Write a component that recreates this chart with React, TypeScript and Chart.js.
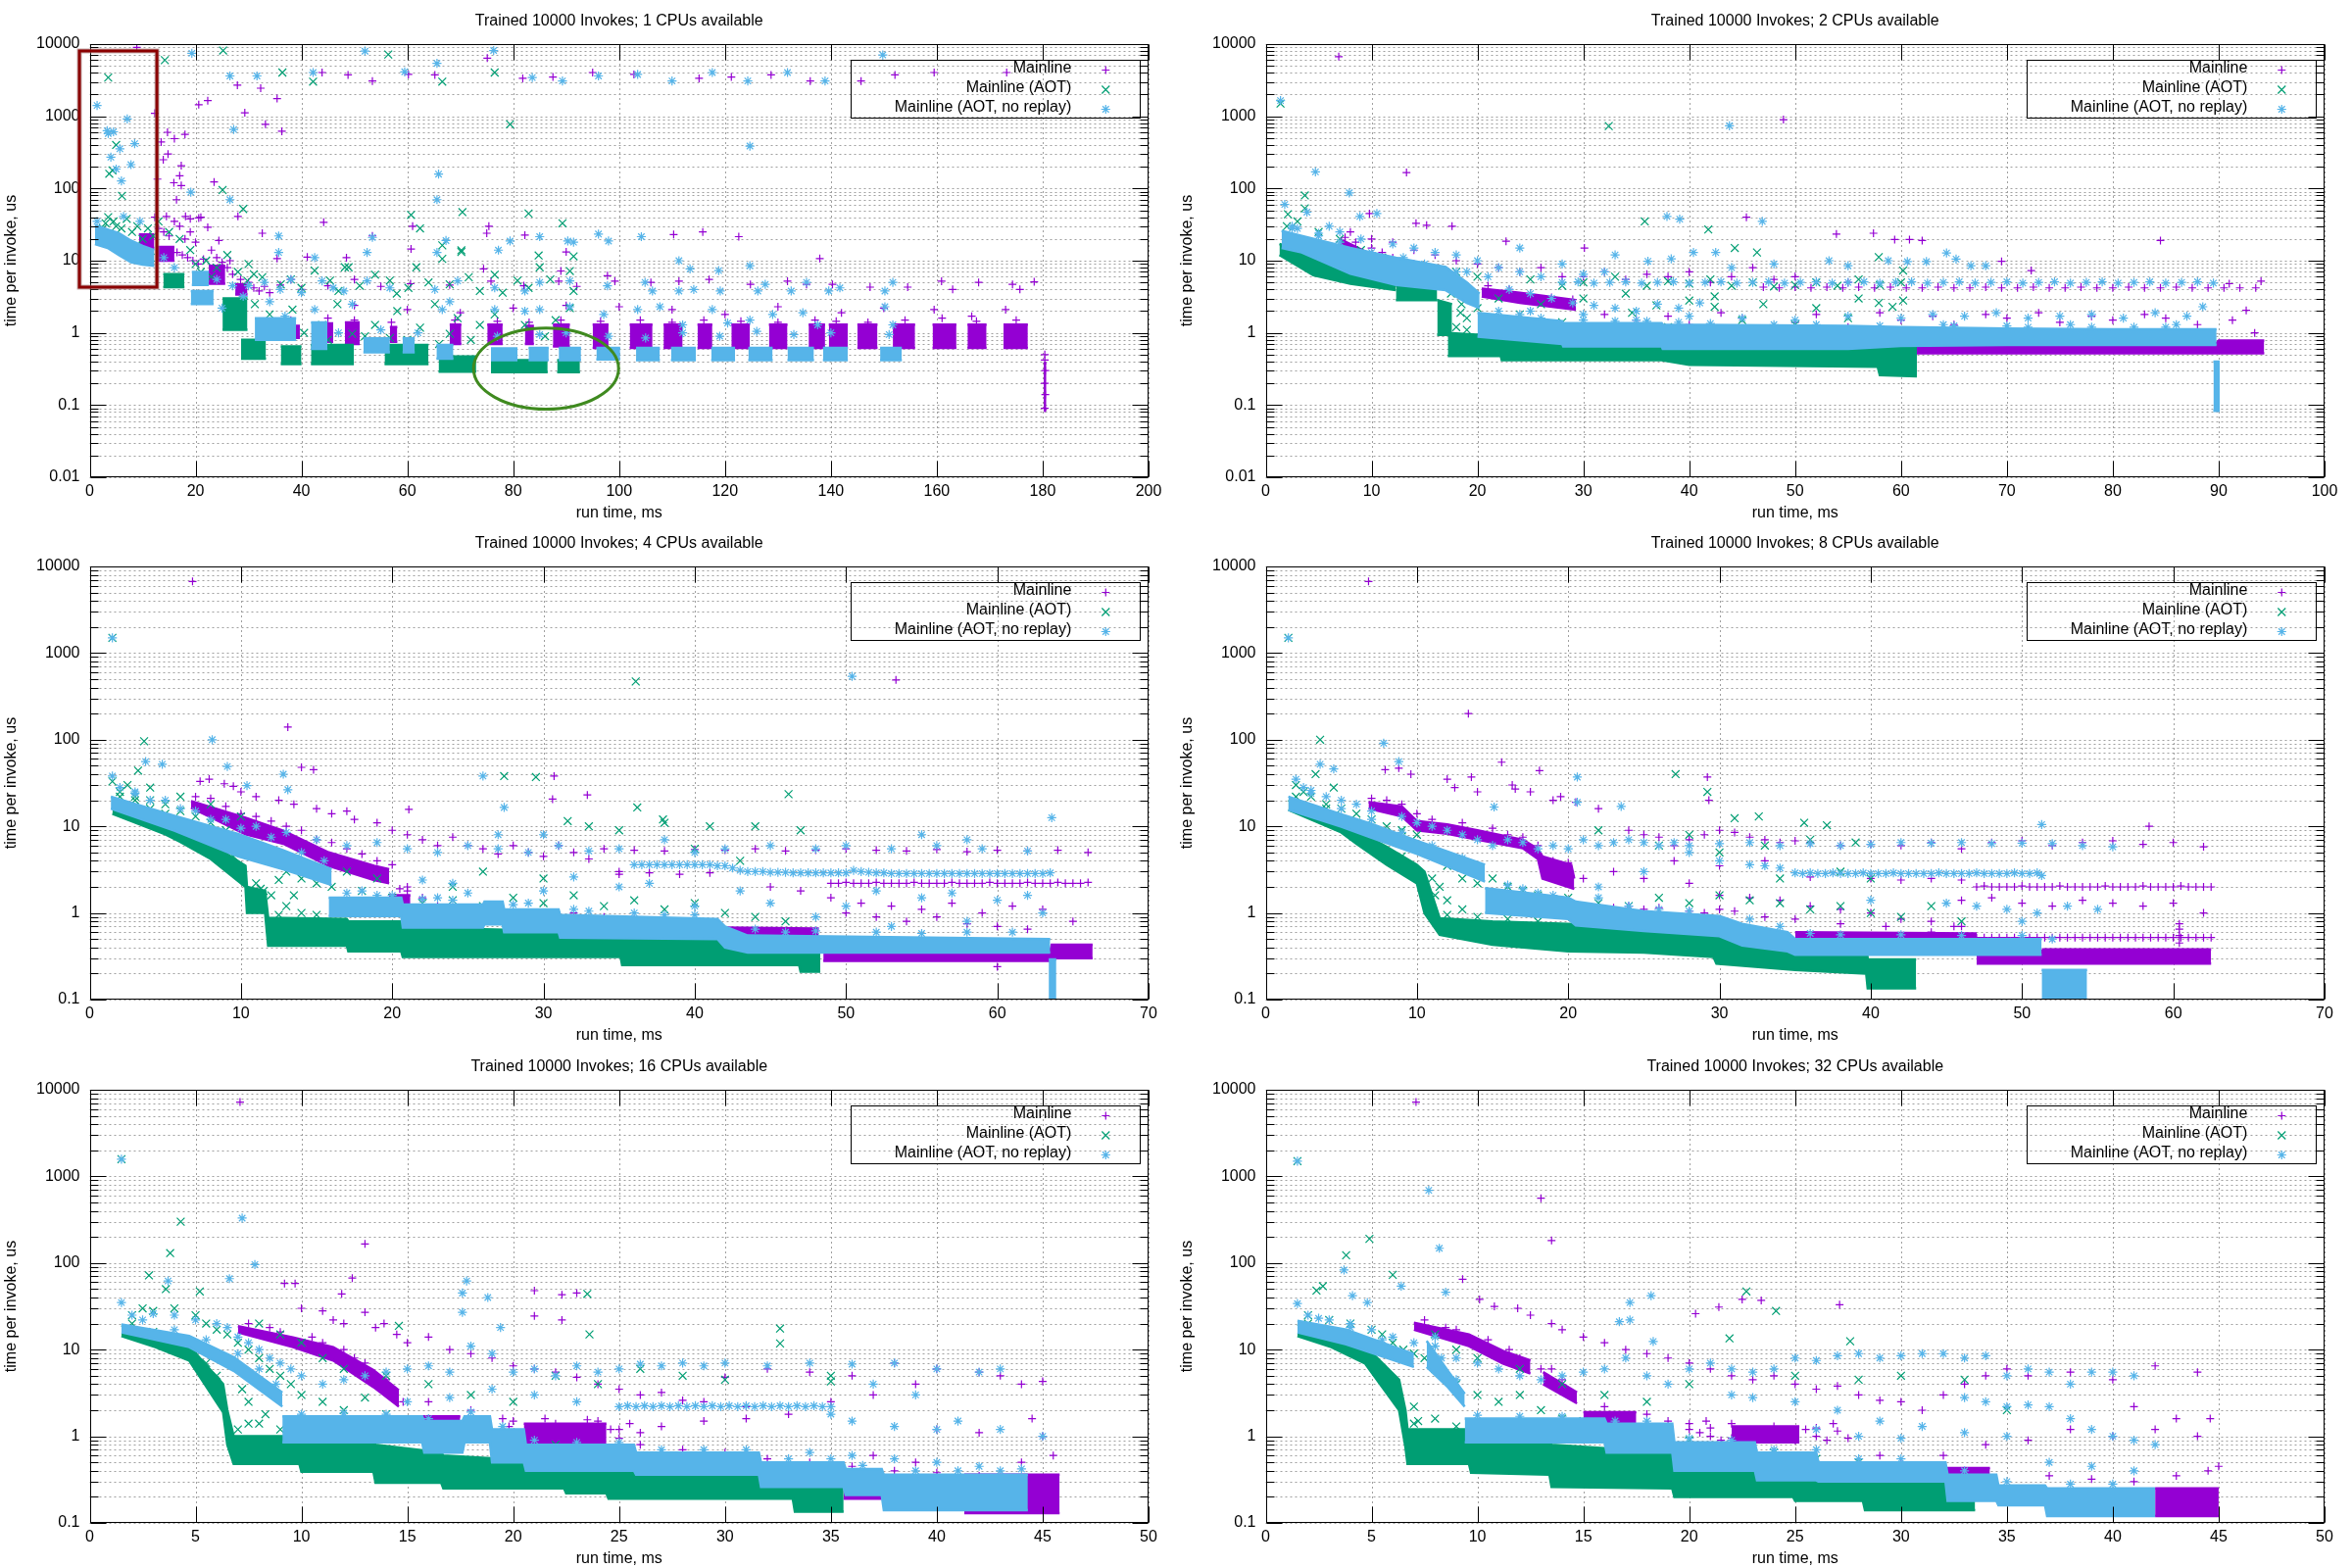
import React, { useEffect, useRef } from 'react';
import { Chart, registerables } from 'chart.js';

Chart.register(...registerables);

type Pt = [number, number];
type Band = [number, number, number][];
type Blob = [number, number, number, number];

const COL_MAIN = '#9400d3';
const COL_AOT = '#009e73';
const COL_NOREP = '#56b4e9';
const FONT = "'Liberation Sans', Arial, Helvetica, sans-serif";

const seriesNames = ['Mainline', 'Mainline (AOT)', 'Mainline (AOT, no replay)'];
const cpuCounts = [1, 2, 4, 8, 16, 32];
const xTicks200 = [0, 20, 40, 60, 80, 100, 120, 140, 160, 180, 200];
const xTicks100 = [0, 10, 20, 30, 40, 50, 60, 70, 80, 90, 100];
const xTicks70 = [0, 10, 20, 30, 40, 50, 60, 70];
const xTicks50 = [0, 5, 10, 15, 20, 25, 30, 35, 40, 45, 50];
const yLabelsWide = ['0.01', '0.1', '1', '10', '100', '1000', '10000'];
const yLabelsNarrow = ['0.1', '1', '10', '100', '1000', '10000'];
const yMinorSteps = [2, 3, 4, 5, 6, 7, 8, 9];

// annotations drawn on the 1-CPU panel (data coordinates)
const redBoxX = [-1.94, 12.7];
const redBoxY = [4.3, 8040];
const ellipseX = [72.5, 99.9];
const ellipseY = [0.0877, 1.17];

// ---------------- Panel 1: 1 CPU ----------------
const p1Main: Pt[] = [
  [8.9,9000],[12.3,1100],[20.6,1450],[22.3,1650],[27.9,2700],[32.3,2450],[29.3,1120],[35.4,1760],[33.2,775],[36.3,620],
  [43.9,4040],[48.8,3740],[53.4,3080],[60.2,3800],[65.2,3740],[75.1,6400],[81.8,3360],[87.5,3500],[95,4040],[102.8,3800],
  [115.1,3360],[121.2,3500],[128.7,3740],[136.1,3080],[145.7,3080],[152.1,3740],[159.5,4040],[173.2,4040],
  [13.5,440],[14.7,600],[16,490],[18,560],[13.9,250],[14.8,300],[17.3,207],[15.9,120],[17.3,110],[17,150],[12.8,135],[23.5,123],
  [16.4,70],[14.5,41],[18.1,41],[20.6,39],[28,41],[44.2,34],[22.3,29],[24.4,19],[32.6,24],[35.4,10.7],[41.1,11.2],[48.5,11],
  [53.4,22],[60.7,14.5],[61,30],[75.4,30],[75,24],[82.2,22.6],[90,13.2],[97.8,6.2],[110.3,23],[115.8,25],[122.6,21.5],[137.9,10.7],
  [74.4,7.7],[89,7.2],
  [12.3,40],[13,28],[14,25],[15,22],[16,35],[17,30],[18,20],[19,25],[20,18],[19,38],[21,40],[16.5,13],[17.5,12],[18.5,11],[19.5,10],
  [20.5,9],[21.5,10.5],[23,14],[24,11],[25,9.5],[26,8],[26.5,10],[27,6.5],[28.5,5.5],[30,5],[31,4.2],[32,3.8],[33,4.4],[34,3.6],[36,4.6],[38,5.5],[40,4],
  [45,4.5],[50,5.5],[55,4.4],[60.6,4.8],[68,4.6],[75.8,5.2],[82,4.5],[88.6,5.2],[92,4.4],[99.2,5.2],[106,5],[111.3,5.2],[117,5.5],
  [124.8,4.7],[131.8,5.2],[135.4,4.7],[140.3,4.7],[147.4,4.3],[154.5,4.3],[160.9,5.2],[163,4],[167.9,5],[174.3,4.7],[175.7,4],[178.4,5.1],
  [50,2.4],[60,2.1],[70,1.9],[80,2.2],[90,2.4],[100,2.3],[110,2.1],[120,1.8],[130,2.3],[142,1.9],[150,2.2],[159.5,2.1],[166.6,1.7],[173,2.1],
  [38,1.5],[45,1.6],[50,1.5],[57,1.4],[69,1.5],[77,1.45],[83,1.4],[89,1.5],[96.5,1.45],[104,1.5],[110,1.4],[116,1.5],[123,1.45],
  [130,1.4],[137,1.5],[141,1.45],[147,1.4],[154,1.5],[161,1.6],[167.5,1.45],[175,1.5],
  [180.4,0.5],[180.4,0.42],[180.5,0.3],[180.4,0.2],[180.5,0.14],[180.4,0.09]
];
const p1MainBlobs: Blob[] = [
  [9.3,12.2,15,23],[12.5,16,10,15.5],[22.5,25.6,4.8,8.5],[27.5,29.8,3.4,4.7],
  [36.9,39.7,0.85,1.25],[43.9,46,0.75,1.35],[48.2,51,0.7,1.4],[56.7,58.1,0.75,1.2],[68,70.2,0.7,1.3],[75.1,78,0.7,1.3],
  [82.2,83.9,0.7,1.25],[87.5,90.7,0.65,1.3],[95,98,0.62,1.3],[102,106.3,0.62,1.3],[108.4,112,0.62,1.3],[114.8,117.6,0.62,1.3],
  [121.2,124.7,0.62,1.3],[128.3,131.8,0.62,1.3],[135.8,138.9,0.62,1.3],[139.6,143.2,0.62,1.3],[145,148.8,0.62,1.3],
  [151.7,155.9,0.62,1.3],[159.2,163.7,0.62,1.3],[165.8,169.4,0.62,1.3],[172.6,177.2,0.62,1.3],[180.2,180.7,0.085,0.38]
];
const p1Aot: Pt[] = [
  [3.5,3440],[14.2,6000],[25.2,8150],[36.4,4040],[42.2,3020],[56.4,7170],[66.6,3020],[76.5,4040],[79.4,775],[25.1,95],[29,52],
  [60.7,43],[70.4,47],[82.9,45],[89.3,33],[6.1,79],[5,400],[4.3,178],[48.9,8.1],[62.4,28],[66.6,16.3],[70.2,13.2],[84.8,11.8],[91.4,11.5],[3.7,160],
  [2.5,28],[3,33],[3.5,40],[4,22],[4.5,35],[5,30],[6,28],[6,18],[7,38],[8,25],[8,14],[9,30],[10,20],[10,12],[11,28],[11.5,11],[12,22],
  [13,35],[15,25],[17,20],[19,14],[20,9],[21,7],[22,10],[23,6],[24,8],[26,12],[28,7],[30,9],[31,6.5],
  [29.8,5.26],[32.6,5.9],[36.1,4.7],[42.5,7.3],[45.4,5.3],[48.2,8.1],[51,4.5],[53.9,6.4],[56.7,5.3],[60.2,4.2],[61.7,8.1],[66.6,10.6],
  [68,4.7],[70.2,13.9],[71.6,5.9],[73.7,3.8],[76.5,6.4],[80.8,5.3],[82.9,4.2],[85,8.1],[91.4,3.8],[90.7,7.2],[38,5.5],[40,4.2],[47,3.8],
  [58,3.5],[64,5],[78,3.6],[87,5.5],
  [43.9,1.29],[49.6,0.97],[53.9,1.29],[56.7,0.85],[62.4,1.18],[68,0.97],[69.5,1.6],[73.7,1.29],[76.5,1.8],[82.2,1.29],[90.7,2.2],
  [31.2,2.5],[34,1.8],[38.3,2.1],[46.8,2.5],[58.1,2.0],[65.2,2.5],[40.5,1.0],[45,0.8],[52,0.9],[60,0.8],[66,0.7],[72,0.8],[86,0.9],[88,1.5],[35,1.2],[33,0.9]
];
const p1AotBlobs: Blob[] = [
  [13.9,17.9,4.3,6.5],[25.1,29.8,1.1,3.0],[28.6,33.3,0.44,0.8],[36.1,40,0.37,0.65],[41.8,49.9,0.37,0.68],
  [55.7,64,0.37,0.68],[65.9,73,0.29,0.47],[75.8,86.5,0.285,0.42],[88.3,92.6,0.285,0.42]
];
const p1NoRep: Pt[] = [
  [1.4,1410],[3.5,578],[4.5,610],[7.1,920],[8.5,417],[4,271],[5,186],[6,127],[7.8,214],[5.7,355],[3.3,630],[1.4,35],[6.4,41],[9.5,35],
  [19.3,7460],[26.5,3620],[31.6,3620],[42.2,4040],[52,7980],[59.5,4130],[65.6,5400],[76.3,8150],[83.6,3440],[89.3,3080],[96.1,3620],
  [103.5,3800],[110,3080],[117.6,4040],[124.3,3080],[131.8,4040],[138.9,3080],[149.8,7080],
  [124.7,387],[65.9,158],[65.6,70],[27.2,658],[19.1,89],[26.5,70],
  [35.7,22],[35.7,13],[42.5,11],[52.4,13],[53.4,21],[65.6,13],[67.3,19],[77.2,14],[79.4,18.7],[85,21.5],[90.3,18.7],[91.4,18],
  [96.1,23.4],[98,18.7],[104.2,21.5],[111.3,10],[113.4,7.7],[118.8,7.3],[124.7,8.5],
  [30,4.5],[33,5],[36,4],[38,5.5],[40,3.6],[46,4.2],[48,3.8],[43.9,5.26],[52.4,5.26],[56.7,4.2],[65.2,4.0],[69.5,5.26],[76.5,4.2],
  [82.2,3.8],[85,5.0],[90.7,5.26],[97.8,4.5],[104.9,5.0],[106.3,3.8],[111.3,3.8],[114.1,4.0],[119.1,3.8],[126.2,3.8],[127.6,4.7],
  [132.5,3.8],[135.4,5.0],[139.6,3.8],[141.7,4.2],[150.2,3.8],[151.7,5.0],
  [34,2.7],[36.9,1.7],[42.5,2.1],[49.6,2.5],[66.6,2.1],[68,2.7],[76.5,2.1],[82.2,2.0],[85,2.1],[90.7,2.3],[97.1,1.8],[103.5,2.1],
  [107.7,2.3],[112,1.29],[117.6,2.1],[120.5,1.37],[124.7,1.5],[129,1.8],[134.7,1.9],[137.5,1.29],[150.2,2.3],[151.7,1.29],
  [47,1.0],[55,1.1],[62,1.0],[77,0.9],[85,0.95],[90,1.0],[98,0.9],[105,0.85],[112,1.0],[119,0.9],[126,1.05],[133,0.95],[140,1.0],
  [151,0.95],[16,8],[14,11],[24,5.5],[27,4.5],[29,3.2],[25,2.2]
];
const p1NoRepBand: Band = [[1,17,31],[3.4,15,27],[5.5,12,24],[7.8,9.5,19],[10,8.8,16],[12.2,8.5,14]];
const p1NoRepBlobs: Blob[] = [
  [19.1,23.4,2.5,3.8],[19.3,22.5,4.6,7],[31.2,39,0.8,1.6],[41.8,44.9,0.6,1.4],[51.7,56.7,0.54,0.84],[59.1,61.4,0.54,0.84],
  [65.5,68.7,0.44,0.68],[75.8,80.8,0.42,0.61],[82.9,86.7,0.42,0.62],[88.6,92.8,0.42,0.62],[95.7,100.2,0.43,0.62],
  [103.2,107.7,0.42,0.62],[109.8,114.5,0.42,0.62],[117.4,121.9,0.42,0.62],[124.4,129,0.42,0.62],[131.8,136.8,0.42,0.62],
  [138.5,143.2,0.42,0.62],[149.3,153.4,0.42,0.62]
];

// ---------------- Panel 2: 2 CPUs ----------------
const p2Main: Pt[] = [
  [6.9,6700],[13.3,166],[48.9,900],[84.5,19],[9.8,45],[14.2,33],[15.2,31],[17.6,30],[22.7,18.6],[30.1,15],[53.9,23.4],[57.4,24],
  [59.4,19.6],[60.8,19.6],[62,19],[45.4,40],[69.5,9.8],[72.3,7.3],[92.6,2.05],[91.3,1.5],[93.4,1.0],
  [8,25],[10,20],[12,18],[14,14],[16,12],[18,10],[20,9],[22,8],[24,7],[26,8],[28,6],[30,6],[32,7],[34,5.5],[36,6.5],[38,6],[40,7],
  [42,5],[44,6],[46,8],[48,5.5],[50,6],[55,5],[18,4.5],[19,3.8],[17,5],
  [7.5,21],[8.5,18],[10,15],[11,13],[12,11],[13,10],[14,9],[21,4.5],[23,4],[25,3.5],[27,3.1],[29,2.9],
  [30,1.2],[35,1.5],[40,1.3],[45,1.6],[50,1.4],[55,1.2],[60,1.5],[65,1.3],[70,1.6],[75,1.4],[80,1.5],[85,1.6],[88,1.3],[47,1.0],
  [32,1.8],[38,1.7],[43,1.9],[52,1.8],[58,1.9],[63,1.7],[68,1.8],[73,1.9],[78,1.7],[83,1.8],
  [47,4.3],[48.5,4.2],[50,4.3],[51.5,4.2],[53,4.3],[54.5,4.2],[56,4.3],[57.5,4.2],[59,4.3],[60.5,4.2],[62,4.2],[63.5,4.3],[65,4.2],
  [66.5,4.2],[68,4.3],[69.5,4.2],[71,4.2],[72.5,4.3],[74,4.2],[75.5,4.2],[77,4.3],[78.5,4.2],[80,4.2],[81.5,4.3],[83,4.2],[84.5,4.2],
  [86,4.3],[87.5,4.2],[89,4.2],[90.5,4.2],[92,4.2],[93.5,4.2],[94,5.2],[91,4.8]
];
const p2MainBands: Band[] = [
  [[7,15.5,20],[9.6,9,13],[14.8,5.6,8.2],[15.6,5.3,7.3]],
  [[20.4,3.2,4.1],[24,2.6,3.6],[29.3,2.1,2.85]],
  [[58,0.52,0.72],[89.8,0.52,0.72],[90,0.52,0.78],[94.3,0.52,0.78]]
];
const p2Aot: Pt[] = [
  [1.4,1500],[32.4,733],[3.7,80],[3.7,53],[2.1,44],[35.8,35],[41.8,27],[44.3,15],[46.4,13],[57.9,11.2],[60.2,7.3],[57.9,2.6],
  [59.2,2.3],[60.2,2.8],[42.4,3.2],[42.4,2.3],[18.4,1.9],[34.6,1.9],[36.9,2.4],
  [2,30],[3,35],[5,25],[7,20],[9,14],[11,11],[13,9],[15,8],[18,7],[20,6],[25,5.5],[28,4.5],[30,5],[33,6],[36,4.5],[38,5.2],[40,4.8],
  [42,5.5],[44,4.5],[46,5],[48,4.4],[50,4.6],[52,5],[54,4.5],[56,5.5],[58,4.6],[60,5],[45,1.5],[50,1.3],[55,1.6],[38,1.2],[28,1.4],
  [24,1.8],[20,2.2],[19,1.6],[17.5,3.5],[18.5,2.5],[22,3],[26,2.5],[30,3],[34,3.5],[40,2.8],[47,2.5],[52,2.2],[56,3],
  [17,1.5],[18,1.2],[19,1.1],[21,1.0],[2,19],[3,16],[5,12],[7,9],[10,7],[14,5]
];
const p2AotBands: Band[] = [
  [[1.3,12,17],[4.5,6.3,12.5],[8,4.8,8.5],[12.3,3.9,6.5]],
  [[12.3,2.85,4.5],[16.2,2.85,4.2]],
  [[16.2,0.94,2.85],[17.6,0.94,2.5]],
  [[17.2,0.48,1.0],[22.2,0.48,0.9],[22.3,0.42,0.85],[37.4,0.42,0.8],[40,0.36,0.8],[57.8,0.34,0.75],[58,0.26,0.7],[61.5,0.25,0.7]]
];
const p2NoRep: Pt[] = [
  [1.4,1650],[4.7,170],[7.9,87],[1.8,60],[3.9,47],[10.5,45],[8.9,41],[43.8,740],[37.9,41],[39.1,37.6],[46.9,35],[40.4,13],[42.5,13],
  [64.3,12.8],[65.2,10.5],[66.6,8.5],[68,8.5],[36.1,9.8],[38.3,10.6],[53.2,10],[58.8,10],[60.6,9.7],[62.4,9.7],
  [2.5,30],[5,22],[6,30],[3,28],[7,25],[9,20],[12,17],[14,15],[16,13],[18,12],[20,10],[22,8],[24,7],[26,6],[28,9],[30,6.5],[32,7],
  [19,7],[21,6],[23,4],[25,3.5],[27,3],[29,2.6],[31,2.4],[33,2.2],[35,2.0],[37,2.5],[39,2.2],[41,2.6],[24,15],[33,12],[44,8],[48,9],[55,8.5],
  [22,2.0],[24,1.8],[26,1.6],[30,1.5],[33,1.45],[36,1.45],[39,1.4],[42,1.35],[48,1.3],[52,1.3],[58,1.25],[65,1.25],[72,1.2],[78,1.2],
  [85,1.2],[2.5,28],[5,24],[7,18],[10,13],[13,11],[15,9],[18,7],
  [28,5],[29.5,5.1],[31,4.9],[32.5,5],[34,5.1],[35.5,4.9],[37,5],[38.5,5.1],[40,4.9],[41.5,5],[43,5.1],[44.5,4.9],[46,5],[47.5,5.1],
  [49,4.9],[50.5,5],[52,5.1],[53.5,4.9],[55,5],[56.5,5.1],[58,4.9],[59.5,5],[61,5.1],[62.5,4.9],[64,5],[65.5,5.1],[67,4.9],[68.5,5],
  [70,5.1],[71.5,4.9],[73,5],[74.5,5.1],[76,4.9],[77.5,5],[79,5.1],[80.5,4.9],[82,5],[83.5,5.1],[85,4.9],[86.5,5],[88,5.1],[89.5,4.9],
  [45,1.6],[50,1.5],[55,1.7],[60,1.6],[63,1.8],[66,1.7],[69,1.9],[72,1.6],[75,1.7],[78,1.8],[81,1.6],[84,1.9],[87,1.7],[88.5,2.3],
  [40,1.7],[35,1.5],[30,1.8],[25,2.0],[64,1.3],[70,1.25],[76,1.3],[82,1.2],[86,1.3]
];
const p2NoRepBands: Band[] = [
  [[1.5,15,26],[3.4,13,22],[8,6.6,15],[12.3,4.6,11],[17,3.9,8.2],[19,2.6,5],[20.2,2.2,3.5]],
  [[20,0.89,1.9],[28,0.7,1.45],[28.1,0.65,1.36],[37.4,0.65,1.36],[37.5,0.6,1.3],[55,0.6,1.25],[60,0.66,1.2],[70,0.68,1.15],
   [80,0.68,1.12],[89.8,0.68,1.12]],
  [[89.5,0.083,0.4],[90.1,0.083,0.4]]
];

// ---------------- Panel 3: 4 CPUs ----------------
const p3Main: Pt[] = [
  [6.8,6700],[53.3,490],[13.1,140],[14,48],[14.8,45],[30.7,38],[32.9,23],[30.6,20.6],[21.1,15.7],[7.3,33],[7.9,35],[8.9,31],[9.5,29],
  [10,25],[11,22],[12.5,20],[13.5,18],[15,16],[16,14],[17,15],[17.5,12],[19,11],[20,9],[21,8],[22,7],[23,6],[24,7.5],[25,6],[26,5.5],
  [27,4.8],[28,6],[29,5],[30,4.5],[31,6],[32,5],[33,4.2],[34,5.5],[35,3],
  [7,22],[8,21],[9,17],[10,14],[11,13],[12,11.5],[13,10],[14,9],[15,7],[16,6.5],[17,5.5],[18,4.8],[19,4],[20,3.6],[21,1.8],[20.5,1.9],
  [36,5.3],[38,5.2],[40,5.4],[42,5.3],[44,5.5],[46,5.2],[48,5.3],[50,5.5],[52,5.3],[54,5.2],[56,5.4],[58,5.1],[60,5.3],[62,5.2],
  [64,5.3],[66,5.0],[35,2.8],[37,2.9],[39,2.8],[41,2.9],[45,2.0],[47,1.8],[49,1.5],[51,1.3],[53,1.2],[55,1.1],[57,1.3],[59,1.0],
  [61,1.2],[63,1.1],[65,0.8],[50,1.0],[52,0.9],[54,0.8],[56,0.9],[58,0.75],[60,0.7],[62,0.65],[21,2],[22,1.5],[23,1.2],[24,1.1],
  [25,1.0],[27,1.1],[28,1.0],[30,0.95],[32,1.0],[34,0.9],[36,0.85],[38,0.8],[40,0.8],[60,0.24],[44,0.62],[46,0.58],
  [49,2.2],[49.5,2.2],[50,2.25],[50.5,2.2],[51,2.2],[51.5,2.2],[52,2.25],[52.5,2.2],[53,2.2],[53.5,2.2],[54,2.2],[54.5,2.25],
  [55,2.2],[55.5,2.2],[56,2.2],[56.5,2.2],[57,2.25],[57.5,2.2],[58,2.2],[58.5,2.2],[59,2.2],[59.5,2.25],[60,2.2],[60.5,2.2],
  [61,2.2],[61.5,2.2],[62,2.25],[62.5,2.2],[63,2.2],[63.5,2.2],[64,2.25],[64.5,2.2],[65,2.2],[65.5,2.2],[66,2.25]
];
const p3MainBands: Band[] = [
  [[6.7,16.4,19.6],[10.3,8.1,12.6],[12.8,6.3,8.9],[15.8,3.5,5],[18.8,2.4,3.5],[19.8,2.2,3.2]],
  [[19.8,1.0,1.6],[21.2,1.0,1.6]],
  [[42,0.52,0.68],[48.2,0.52,0.66]],
  [[48.5,0.28,0.36],[63.5,0.28,0.36],[63.6,0.3,0.43],[66.3,0.3,0.43]]
];
const p3Aot: Pt[] = [
  [1.5,1500],[36.1,470],[3.6,96],[3.2,44],[1.5,33],[27.4,38],[29.5,37],[46.2,23.5],[36.2,16.5],[31.6,11.5],[37.9,12],[2,25],[3,22],
  [4,20],[5,18],[6,15],[7,13],[8,11],[9,9],[10,7],[11,5.5],[12,4],[13,3],[14,2.5],[15,2.2],[16,2],[18,1.8],[20,1.5],[22,1.3],[24,1.4],
  [26,1.2],[28,1.5],[30,1.3],[32,1.6],[34,1.2],[36,1.4],[38,1.1],[40,1.3],[42,1.0],[44,0.9],[46,0.8],[33,10],[35,9],[38,11],[41,10],
  [44,10],[47,9],[40,5.5],[43,4],[13,1.2],[12,1.6],[2.5,30],[4,28],[6,22],[8,18],[10,13],[11.5,1.8],[12.5,2.4],[13.5,1.6],[17,3],
  [19,2.5],[24,2],[26,3],[30,2.5],[12.5,0.95],[14,1.0],[15,0.95],[11,2.2],[11.3,1.9],[2,22],[3,20],[4,16],[5,14],[6,11],[7,9],[8,7],
  [9,5.5],[9.5,4.5]
];
const p3AotBands: Band[] = [
  [[1.5,14,20],[5,8.1,12.3],[6,6.6,9.8],[8,4.2,6.3],[10.3,2.0,3.5],[10.4,1.0,2.0],[11.6,1.0,1.8],[11.8,0.42,0.88],[17,0.42,0.85],
   [17.1,0.36,0.8],[20.6,0.36,0.8],[20.7,0.31,0.68],[35.1,0.31,0.6],[35.2,0.25,0.6],[46.9,0.25,0.45],[47,0.21,0.4],[48.3,0.21,0.4]]
];
const p3NoRep: Pt[] = [
  [1.5,1500],[50.4,540],[8.1,100],[3.7,56],[4.8,52],[9.1,49],[1.5,38],[26,38],[63.6,12.6],[27.4,16.5],[12.8,40],[13.1,26.5],[10.4,29.5],
  [2,28],[3,25],[5,20],[7,15],[9,12],[11,10],[13,8.5],[15,7],[17,6],[19,6.5],[21,5.5],[23,5],[25,6],[27,5.5],[29,5],[31,6],[33,5.2],
  [35,5.5],[38,7],[40,5],[42,5.5],[45,6],[48,5.5],[50,6],[53,5.5],[56,6],[59,5.5],[62,5.2],[55,8],[58,7],[30,8],[27,8],
  [17,1.7],[18,1.8],[19,1.6],[22,1.45],[23,1.5],[24,1.4],[28,1.25],[29,1.3],[32,1.1],[33,1.05],[36,1.0],[38,0.95],[40,0.95],[44,0.65],
  [46,0.6],[48,0.62],[52,0.6],[55,0.58],[58,0.6],[61,0.6],[3,24],[4,20],[6,16],[8,12],[10,9.5],[12,7.5],[14,5],[15.5,4],
  [36,3.6],[36.5,3.6],[37,3.6],[37.5,3.6],[38,3.6],[38.5,3.6],[39,3.6],[39.5,3.6],[40,3.6],[40.5,3.6],[41,3.6],[41.5,3.5],[42,3.5],
  [42.5,3.3],[43,3.1],[43.5,3.0],[44,3.0],[44.5,3.0],[45,2.95],[45.5,2.95],[46,2.95],[46.5,2.9],[47,2.9],[47.5,2.9],[48,2.9],
  [48.5,2.9],[49,2.9],[49.5,2.9],[50,2.9],[50.5,3.1],[51,3.0],[51.5,2.95],[52,2.9],[52.5,2.9],[53,2.85],[53.5,2.85],[54,2.85],
  [54.5,2.85],[55,2.85],[55.5,2.85],[56,2.85],[56.5,2.85],[57,2.85],[57.5,2.85],[58,2.85],[58.5,2.85],[59,2.85],[59.5,2.85],
  [60,2.85],[60.5,2.85],[61,2.85],[61.5,2.85],[62,2.85],[62.5,2.85],[63,2.85],[63.5,2.9],
  [20,1.6],[25,1.7],[30,1.8],[35,2],[40,1.2],[45,1.3],[50,1.2],[55,1.5],[60,1.4],[63,1.0],[58,0.8],[53,0.7],[48,0.9],[22,2.4],
  [24,2.2],[32,2.6],[37,2.2],[43,1.8],[52,1.8],[57,1.7],[62,1.6]
];
const p3NoRepBands: Band[] = [
  [[1.4,16,22],[5.6,8.9,13.2],[9.8,4.5,8.2],[12.8,3.2,5.3],[16,2.1,3.2]],
  [[15.8,0.92,1.5],[20.6,0.92,1.5],[20.7,0.68,1.25],[26,0.68,1.25],[26.1,0.74,1.35],[27.3,0.74,1.35],[27.4,0.6,1.1],[31,0.6,1.1],
   [31.1,0.52,0.95],[41.5,0.5,0.85],[42,0.4,0.7],[43.5,0.35,0.55],[63.5,0.35,0.5]],
  [[63.4,0.1,0.29],[63.9,0.1,0.29]]
];

// ---------------- Panel 4: 8 CPUs ----------------
const p4Main: Pt[] = [
  [6.8,6700],[13.4,200],[15.6,55],[18.1,44],[7.9,45],[8.8,47],[9.6,40],[13.6,37],[29.2,37],[29.3,20],[58.4,10],[16.3,30],[12,35],
  [12.5,28],[14,25],[16.5,27],[17.5,25],[19,20],[19.5,22],[20.5,19],[22,16],[24,9],[25,8],[26,7.5],[27,6],[28,7],[29,8],[30,9],
  [31,8.5],[32,7.5],[33,7],[34,6.5],[35,6.8],[36,6.5],[38,6],[40,6.2],[42,6],[44,6.5],[46,5.5],[48,6.5],[50,6.8],[52,6],[54,6.5],
  [56,6.8],[58,6.2],[60,6.5],[62,5.8],[40,2.5],[42,2.4],[44,2.5],[46,2.4],[27,4],[30,3.5],[33,4],[36,2.6],[23,3],[25,2.5],[28,2.2],
  [7,21],[8,20],[9,18],[10,14],[11,12],[13,11],[15,9.5],[16,8],[17,7.5],[18,6],[19,4],[20,3.8],[21,2.5],
  [30,1.6],[32,1.5],[34,1.4],[36,1.2],[38,1.1],[40,1.0],[42,0.85],[44,0.8],[46,0.7],[48,1.5],[50,1.3],[52,1.2],[54,1.4],[56,1.3],
  [58,1.2],[60,1.3],[62,1.0],[60.4,0.45],[60.4,0.55],[60.4,0.65],[60.4,0.75],[46,1.4],[21,1.2],[22,1.1],[23,1.15],[24,1.2],[25,1.1],
  [26,1.15],[28,1.05],[29,1.0],[30,1.1],[31,1.05],[33,0.9],[35,0.85],[38,0.75],[41,0.7],[44,0.6],[45.5,0.7],
  [47,2.0],[47.5,2.05],[48,2.0],[48.5,2.0],[49,2.0],[49.5,2.0],[50,2.05],[50.5,2.0],[51,2.0],[51.5,2.0],[52,2.0],[52.5,2.05],
  [53,2.0],[53.5,2.0],[54,2.0],[54.5,2.0],[55,2.0],[55.5,2.05],[56,2.0],[56.5,2.0],[57,2.0],[57.5,2.0],[58,2.05],[58.5,2.0],
  [59,2.0],[59.5,2.0],[60,2.0],[60.5,2.05],[61,2.0],[61.5,2.0],[62,2.0],[62.5,2.0],
  [47,0.52],[47.5,0.52],[48,0.52],[48.5,0.52],[49,0.52],[49.5,0.52],[50,0.52],[50.5,0.52],[51,0.52],[51.5,0.52],[52,0.52],
  [52.5,0.52],[53,0.52],[53.5,0.52],[54,0.52],[54.5,0.52],[55,0.52],[55.5,0.52],[56,0.52],[56.5,0.52],[57,0.52],[57.5,0.52],
  [58,0.52],[58.5,0.52],[59,0.52],[59.5,0.52],[60,0.52],[60.5,0.52],[61,0.52],[61.5,0.52],[62,0.52],[62.5,0.52]
];
const p4MainBands: Band[] = [
  [[6.8,16,19],[9,13,17],[10,9,11.5],[12,8.2,10.5],[14,7,9],[17,5.6,7],[18,4.2,5.5],[18.3,2.5,4.5],[20.2,1.95,3.6],[20.4,1.9,2.5]],
  [[35,0.47,0.6],[47,0.45,0.58]],
  [[47,0.26,0.36],[51.3,0.26,0.36],[51.4,0.26,0.38],[62.5,0.26,0.38]]
];
const p4Aot: Pt[] = [
  [1.5,1500],[3.6,100],[27.1,40],[29.2,25],[31,12.4],[32.6,13],[35.6,11],[37.1,10.3],[2,30],[2.5,25],[3,22],[4,18],[5,16],[6,14],
  [7,12],[8,10],[9,9],[10,8],[11,5],[12,3.5],[13,2.5],[14,2.2],[15,2.5],[16,2.0],[17,1.8],[18,1.6],[20,1.5],[22,1.3],[24,1.2],
  [26,1.5],[28,1.3],[30,1.6],[32,1.4],[34,1.3],[36,1.1],[38,1.2],[40,1.0],[42,0.9],[44,1.2],[46,0.8],[33,6],[36,7],[39,6.5],[26,6],
  [28,8],[22,9],[30,5],[38,3],[40,2.5],[34,2.5],[3.3,40],[4.5,28],[11.5,2],[12,1.4],[13,1.1],
  [11,2.5],[11.2,1.6],[12,0.95],[14,0.9],[16,0.85],[18,0.8],[22,0.8],[2,22],[4,16],[6,11],[7,8],[9,4.5]
];
const p4AotBands: Band[] = [
  [[1.5,15.5,20],[5,8.5,11.7],[6,6.3,9],[8,3.6,5.8],[10,2.2,3.6],[10.5,1.0,3.0],[11.5,0.56,0.87],[15,0.43,0.8],[20,0.36,0.75],
   [25,0.35,0.7],[29.6,0.31,0.65],[29.8,0.26,0.6],[35,0.22,0.5],[39.7,0.2,0.45],[39.8,0.135,0.29],[43,0.135,0.29]]
];
const p4NoRep: Pt[] = [
  [1.5,1500],[7.8,91],[8.8,56],[3.6,52],[4.5,46],[20.6,37],[20.6,19],[23.5,17],[51.3,10.5],[15.1,16.7],[2,35],[2.5,28],[3,26],
  [4,22],[5,20],[6,18],[7,15],[9,13],[10,11],[11,10],[12,9],[13,8],[14,7],[15,6],[16,7],[17,6.5],[18,5.5],[19,6],[20,5.5],[21,7],
  [22,6],[23,6.5],[24,7],[25,6.5],[26,6],[27,6.5],[28,6],[30,6.3],[32,6.5],[34,6],[36,6.3],[38,6],[40,6.2],[42,6.5],[44,6.4],
  [46,6.5],[48,6.3],[50,6.4],[52,6.3],[54,6.0],[56,5.8],[33,3.5],[34,3.3],[32,3.6],[30,4],[28,5],[25,3],[22,2],[47,1.2],[49,1.1],
  [51,1.0],[53,1.2],[55,1.1],[45,1.3],[40,1.4],[50,0.8],[52,0.5],
  [16,2.1],[17,1.9],[18,1.7],[19,1.6],[22,1.5],[24,1.2],[26,1.1],[28,1.05],[32,0.85],[34,0.7],[36,0.58],[38,0.56],[42,0.56],
  [46,0.55],[50,0.55],[3,24],[5,16],[7,12],[9,8.5],[11,6],[13,4.3],
  [35,2.9],[35.5,2.85],[36,2.9],[36.5,2.85],[37,2.85],[37.5,2.9],[38,2.85],[38.5,2.85],[39,2.85],[39.5,2.9],[40,2.85],[40.5,2.85],
  [41,2.85],[41.5,2.9],[42,2.85],[42.5,2.85],[43,2.85],[43.5,2.85],[44,2.85],[44.5,2.9],[45,2.85],[45.5,2.85],[46,2.85],[46.5,2.85],
  [47,2.9],[47.5,2.85],[48,2.85],[48.5,2.85],[49,2.85],[49.5,2.9],[50,2.85],[50.5,2.85],[51,2.9],[51.3,2.7]
];
const p4NoRepBands: Band[] = [
  [[1.5,15.5,22],[5,9.9,13.8],[7,7.4,10.7],[10,4.8,6.8],[14.5,2.3,3.6]],
  [[14.5,1.0,1.94],[20,0.85,1.5],[20.5,0.72,1.35],[25,0.62,1.05],[30,0.54,0.92],[31.5,0.42,0.75],[34.5,0.36,0.6],[35,0.33,0.5],
   [51.3,0.33,0.5]],
  [[51.3,0.1,0.22],[54.3,0.1,0.22]]
];

// ---------------- Panel 5: 16 CPUs ----------------
const p5Main: Pt[] = [
  [7.1,7200],[13,166],[12.4,67],[9.2,58],[9.7,58],[11.9,44],[21,48],[22.3,43],[23,45],[13,27],[21,24.5],[22.3,22],[13.9,20],[10,30],
  [11,28],[11.5,22],[12,20],[13.5,18],[14.5,15],[15,12],[16,14],[17,10],[18,9],[19,8],[20,6.5],[21,6],[22,5.5],[23,4.8],[24,4],
  [25,3.5],[26,3],[27,3.2],[28,2.6],[29,2.5],[30,4.8],[31,2.2],[32,6],[34,5.5],[36,5],[38,7],[40,6],[42,5.5],[44,4],[45,4.3],[43,5],
  [39,4],[37,3],[35,2.5],[33,1.8],[31,1.6],[29,1.5],[27,1.3],[25,1.2],[23,1.0],[26,0.8],[28,0.7],[30,0.65],[32,0.55],[34,0.5],
  [36,0.45],[38,0.4],[40,0.38],[42,0.35],[44,0.5],[45.5,0.6],[45,1.0],[44.5,1.6],[16,2.5],[18,2],[20,1.5],[22,1.4],[24,1.5],
  [28,0.35],[30,0.35],[29,0.33],[31,0.34],[40,1.2],[42,1.1],[37,0.6],[39,0.5],
  [7.5,20],[8.5,18],[9,16],[10.5,14],[11,12],[12,10],[12.5,8],[13,7],[14,4.5],[14.8,2.5],
  [19.8,1.3],[20.2,0.9],[24.6,1.2],[25,0.95],[25.5,1.4],[26,1.1],[19.5,1.6],[21.5,1.6],[23.5,1.55]
];
const p5MainBands: Band[] = [
  [[7,15.8,18.7],[9.6,10.7,13.8],[11.5,7.5,10.7],[13.4,3.7,5.8],[14.6,2.2,3.4]],
  [[15,1.1,1.7],[17.5,1.1,1.7]],
  [[20.5,0.8,1.4],[24.4,0.8,1.4]],
  [[28,0.3,0.37],[31.6,0.3,0.37]],
  [[35.6,0.19,0.23],[37.4,0.19,0.23]],
  [[41.3,0.13,0.36],[45.8,0.13,0.36]]
];
const p5Aot: Pt[] = [
  [1.5,1580],[4.3,300],[3.8,130],[2.8,72],[3.6,50],[5.2,47],[23.5,44],[32.6,17.5],[32.6,11.8],[23.6,15],[14.6,18.8],[2,25],[2.5,30],
  [3,28],[4,30],[5,25],[5.5,20],[6,17],[6.5,15],[7,12],[7.5,10],[8,8],[8.5,6],[9,5],[9.5,4],[10,3],[11,2.5],[12,2],[13,2.8],[14,1.8],
  [15,1.5],[16,1.2],[18,1.0],[20,0.9],[22,0.8],[24,0.7],[26,0.6],[28,0.55],[30,0.5],[32,0.45],[34,0.4],[8,1.4],[8.3,1.8],[7.5,2.5],
  [7.2,3.5],[8,20],[9,15],[10,12],[11,8],[12,6],[14,5],[16,4],[18,3],[20,2.5],[22,5],[24,4],[26,6],[28,5],[30,4.5],[35,4.3],[35,5],
  [7,1.2],[7.5,1.4],[9,1.2],[10,1.0],[12,0.95],[2,20],[3,16],[4,13],[5,9],[5.5,7],[6,5]
];
const p5AotBands: Band[] = [
  [[1.5,14.4,19],[3.1,10.7,14],[4.7,7.5,11],[6.3,1.9,4],[6.5,0.8,2],[6.8,0.48,1.0],[9.9,0.48,1.0],[10,0.39,0.9],[13.4,0.39,0.85],
   [13.5,0.29,0.8],[16.6,0.29,0.65],[16.7,0.25,0.6],[22.4,0.25,0.5],[22.5,0.22,0.45],[24.4,0.22,0.45],[24.5,0.19,0.4],
   [33.2,0.19,0.35],[33.3,0.135,0.3],[35.6,0.135,0.3]]
];
const p5NoRep: Pt[] = [
  [1.5,1580],[7.2,330],[7.8,96],[6.6,66],[3.7,62],[17.8,62],[18.8,40],[17.6,45],[1.5,35],[17.6,27],[19.4,18],[2,25],[3,26],[4,25],
  [5,22],[6,20],[6.5,18],[7,14],[7.5,12],[8,10],[8.5,8],[9,7],[9.5,6],[10,5],[11,4],[12,4.5],[13,5],[14,5.5],[15,6],[16,6.5],
  [17,5.5],[18,11],[19,9],[20,5.5],[21,6],[22,5],[23,6.5],[24,5.5],[25,6],[26,6.8],[27,6.5],[28,7],[29,6.5],[30,7],[32,6.5],[34,7],
  [36,6.8],[38,7],[40,6],[42,5.5],[43,6],[37,4],[39,3],[41,1.5],[43,1.2],[45,1.0],[21,3],[23,2.5],[19,3.5],[17,2.8],[15,2.5],
  [40,0.5],[42,0.45],[44,0.42],[38,0.55],[36,0.6],[34,0.65],[35,1.8],[36,1.5],[38,1.3],[40,1.2],
  [10,1.8],[12,1.85],[14,1.8],[16,1.6],[18,1.9],[19.5,1.3],[21,0.9],[23,0.85],[25,0.85],[27,0.7],[29,0.7],[31,0.7],[33,0.55],
  [35,0.55],[36.5,0.46],[39,0.4],[41,0.4],[43,0.4],[2.5,22],[4,17],[5.5,13],[7,9],[8,6],[8.8,4],
  [25,2.2],[25.4,2.25],[25.8,2.2],[26.2,2.25],[26.6,2.2],[27,2.25],[27.4,2.2],[27.8,2.25],[28.2,2.2],[28.6,2.25],[29,2.2],
  [29.4,2.25],[29.8,2.2],[30.2,2.25],[30.6,2.2],[31,2.25],[31.4,2.2],[31.8,2.25],[32.2,2.2],[32.6,2.25],[33,2.2],[33.4,2.25],
  [33.8,2.2],[34.2,2.25],[34.6,2.2],[35,2.2]
];
const p5NoRepBands: Band[] = [
  [[1.5,15.8,19.5],[4.7,10.7,14.4],[6.8,5.7,8.2],[9.1,2.2,3.2]],
  [[9.1,0.85,1.7],[15.7,0.85,1.7],[15.8,0.65,1.5],[17.6,0.65,1.5],[17.7,0.85,1.7],[18.9,0.85,1.7],[19,0.5,1.2],[20.5,0.5,1.2],
   [20.6,0.4,0.8],[25.7,0.4,0.8],[25.8,0.36,0.65],[31.6,0.36,0.65],[31.7,0.26,0.5],[35.6,0.26,0.5],[35.7,0.21,0.42],
   [37.4,0.21,0.42],[37.5,0.14,0.36],[44.3,0.14,0.36]]
];

// ---------------- Panel 6: 32 CPUs ----------------
const p6Main: Pt[] = [
  [7.1,7200],[13,560],[13.5,182],[9.3,65],[22.5,38],[23.4,37],[20.3,26],[21.4,31],[27.1,33],[10.1,38],[10.8,31.6],[11.9,30],
  [12.5,25],[13.5,20],[14,17],[15,14],[16,12],[17,10],[18,9],[19,8],[20,7],[21,6],[22,5],[23,4.5],[24,5],[25,4],[26,3.5],[27,3.8],
  [28,3],[29,2.6],[30,2.5],[31,2],[32,3],[33,4],[34,5],[35,6],[36,5],[38,5.5],[40,4.5],[42,6.5],[44,5.5],[41,2.2],[43,1.6],
  [44.6,1.6],[44,1.0],[42,1.2],[40,1.0],[38,1.2],[36,0.9],[34,0.8],[32,0.6],[30,0.5],[28,0.5],[37,0.35],[39,0.32],[41,0.3],
  [43,0.35],[44.5,0.4],[45,0.45],[19,1.5],[20,1.2],[21,1.0],[22,0.95],[25,0.9],[18,1.8],[16,2.2],[15.5,1.4],[29,0.6],[31,0.45],
  [7.5,22],[8.5,18],[9,17],[10.5,13],[11.5,10],[12,8],[13,6],[13.5,6],[14,4.5],[14.5,3],[20,1.4],[22,1.4],[24,1.3],[26,1.25],
  [20.5,1.1],[21,1.25],[21.5,0.9],[26,1.0],[26.5,0.9],[27,1.15],[27.5,0.95],[25.5,1.2],[26.8,1.4],[20.8,1.5]
];
const p6MainBands: Band[] = [
  [[7,17,20.5],[9.6,11,15],[11.2,6.9,9.7],[12.5,5.3,7.5]],
  [[13.1,4,5.5],[14.7,2.4,3.2]],
  [[15,1.3,1.9],[17.5,1.3,1.9]],
  [[22,0.85,1.3],[25.2,0.85,1.3]],
  [[32,0.3,0.43],[34.2,0.3,0.43]],
  [[42,0.12,0.25],[45,0.12,0.25]]
];
const p6Aot: Pt[] = [
  [1.5,1500],[4.9,190],[3.8,123],[6,73],[2.7,54],[2.4,48],[22.7,47],[24.1,28],[21.9,13.5],[27.6,12.5],[2,25],[3,22],[4,20],[5,17],
  [5.5,15],[6,12],[6.5,10],[7,9],[7.5,8],[8,6],[8.5,5],[9,4],[10,3],[11,2.5],[12,3],[13,2],[14,1.6],[15,1.5],[16,1.2],[18,1.0],
  [20,0.9],[22,0.75],[24,0.65],[26,0.55],[28,0.5],[30,0.4],[32,0.35],[8,15],[9,10],[10,8],[12,6],[14,4],[16,3],[18,2.5],[20,4],
  [25,5],[28,4.5],[30,5],[33,4.5],[35,2],[7.2,1.5],[7,2.2],
  [7,1.4],[8,1.6],[9,1.3],[10,1.1],[11,1.0],[12,1.0],[2,20],[3,16],[4,13],[5,9],[5.5,6],[6,4]
];
const p6AotBands: Band[] = [
  [[1.5,14.4,19.5],[3.1,10.7,15],[4.7,6.9,11],[6.3,2.0,4.5],[6.6,0.75,2],[6.7,0.48,1.2],[9.6,0.48,1.2],[9.7,0.38,1.0],
   [13.4,0.36,0.9],[13.5,0.26,0.8],[19.2,0.25,0.65],[19.3,0.2,0.6],[24.9,0.2,0.45],[25,0.18,0.4],[28.2,0.18,0.35],
   [28.3,0.14,0.32],[33.5,0.14,0.3]]
];
const p6NoRep: Pt[] = [
  [1.5,1500],[7.7,690],[8.2,148],[3.7,83],[6.4,54],[8.5,46],[4.1,42],[4.8,35],[1.5,34],[18.2,42],[17.2,35],[17.2,22],[16.7,21],
  [18.3,12.4],[2,25],[3,22],[4,20],[5,17],[6,14],[7,12],[8,11],[9,8],[10,7],[11,6],[12,5],[13,4.5],[14,5],[15,5.5],[16,6],[17,8],
  [18,5],[19,4],[20,6],[21,7],[22,6],[23,5.5],[24,6],[25,8],[26,7.5],[27,8.5],[28,9],[29,8],[30,8.5],[31,9],[32,9],[33,8],[34,8.5],
  [35,5],[36,6],[37,5.5],[38,4],[39,5.5],[40,5.5],[41,5],[33,2.8],[34,2.5],[35,2.2],[36,2.3],[37,2.2],[38,1.6],[39,1.2],[40,1.0],
  [41,0.9],[42,0.8],[22,3],[23,2.8],[25,2.5],[27,2],[29,1.5],[31,1.3],[33,1.1],[35,1.0],[37,0.5],[39,0.45],[41,0.4],[26,1.2],
  [28,1.0],[30,0.95],
  [10,1.75],[12,1.7],[14,1.7],[16.5,1.5],[18,1.5],[20,0.95],[22,0.9],[24,0.7],[26,0.7],[28,0.55],[30,0.55],[33,0.4],[35,0.3],
  [38,0.28],[40,0.28],[2.5,23],[4,18],[5.5,13],[8,14],[8.3,8],[9,4.5]
];
const p6NoRepBands: Band[] = [
  [[1.5,15.8,21.5],[3.8,11.5,17],[7,6.3,8.9]],
  [[7.6,6.3,12.6],[8.6,3.7,5.7],[9.4,2.2,3.1]],
  [[9.4,0.85,1.6],[16,0.85,1.6],[16.1,0.65,1.4],[19.2,0.65,1.4],[19.3,0.4,0.85],[23.1,0.4,0.85],[23.2,0.31,0.65],[26,0.31,0.65],
   [26.1,0.3,0.5],[32.1,0.3,0.5],[32.2,0.18,0.36],[34.5,0.18,0.36],[34.6,0.16,0.27],[36.8,0.16,0.27],[36.9,0.12,0.25],[42,0.12,0.25]]
];

// ---------------- assembly ----------------
const blobsToBands = (b: Blob[]): Band[] => b.map(([x0, x1, lo, hi]) => [[x0, lo, hi], [x1, lo, hi]] as Band);

type Series = { pts: Pt[]; bands: Band[] };
type Panel = { cpus: number; xMax: number; xTicks: number[]; yLabels: string[]; series: Series[]; annotate: boolean };

const panels: Panel[] = [
  { cpus: cpuCounts[0], xMax: 200, xTicks: xTicks200, yLabels: yLabelsWide, annotate: true,
    series: [ { pts: p1Main, bands: blobsToBands(p1MainBlobs) },
              { pts: p1Aot, bands: blobsToBands(p1AotBlobs) },
              { pts: p1NoRep, bands: [p1NoRepBand, ...blobsToBands(p1NoRepBlobs)] } ] },
  { cpus: cpuCounts[1], xMax: 100, xTicks: xTicks100, yLabels: yLabelsWide, annotate: false,
    series: [ { pts: p2Main, bands: p2MainBands }, { pts: p2Aot, bands: p2AotBands }, { pts: p2NoRep, bands: p2NoRepBands } ] },
  { cpus: cpuCounts[2], xMax: 70, xTicks: xTicks70, yLabels: yLabelsNarrow, annotate: false,
    series: [ { pts: p3Main, bands: p3MainBands }, { pts: p3Aot, bands: p3AotBands }, { pts: p3NoRep, bands: p3NoRepBands } ] },
  { cpus: cpuCounts[3], xMax: 70, xTicks: xTicks70, yLabels: yLabelsNarrow, annotate: false,
    series: [ { pts: p4Main, bands: p4MainBands }, { pts: p4Aot, bands: p4AotBands }, { pts: p4NoRep, bands: p4NoRepBands } ] },
  { cpus: cpuCounts[4], xMax: 50, xTicks: xTicks50, yLabels: yLabelsNarrow, annotate: false,
    series: [ { pts: p5Main, bands: p5MainBands }, { pts: p5Aot, bands: p5AotBands }, { pts: p5NoRep, bands: p5NoRepBands } ] },
  { cpus: cpuCounts[5], xMax: 50, xTicks: xTicks50, yLabels: yLabelsNarrow, annotate: false,
    series: [ { pts: p6Main, bands: p6MainBands }, { pts: p6Aot, bands: p6AotBands }, { pts: p6NoRep, bands: p6NoRepBands } ] },
];

const seriesStyles = [
  { color: COL_MAIN, pointStyle: 'cross', radius: 4, order: 3 },
  { color: COL_AOT, pointStyle: 'crossRot', radius: 5.6, order: 2 },
  { color: COL_NOREP, pointStyle: 'star', radius: 4.6, order: 1 },
];

function yTickList(labels: string[]) {
  const majors = labels.map(Number);
  const out: { v: number; major: boolean }[] = [];
  majors.forEach((m, i) => {
    out.push({ v: m, major: true });
    if (i < majors.length - 1) yMinorSteps.forEach((k) => out.push({ v: Number((m * k).toPrecision(4)), major: false }));
  });
  return out;
}

function drawMarker(ctx: CanvasRenderingContext2D, kind: string, x: number, y: number, r: number) {
  ctx.beginPath();
  if (kind === 'cross' || kind === 'star') {
    ctx.moveTo(x - r, y); ctx.lineTo(x + r, y);
    ctx.moveTo(x, y - r); ctx.lineTo(x, y + r);
  }
  if (kind === 'crossRot' || kind === 'star') {
    const d = r * Math.SQRT1_2;
    ctx.moveTo(x - d, y - d); ctx.lineTo(x + d, y + d);
    ctx.moveTo(x - d, y + d); ctx.lineTo(x + d, y - d);
  }
  ctx.stroke();
}

function buildDatasets(panel: Panel) {
  const ds: any[] = [];
  panel.series.forEach((s, i) => {
    const st = seriesStyles[i];
    s.bands.forEach((band) => {
      ds.push({
        type: 'line', data: band.map(([x, lo]) => ({ x, y: lo })), pointRadius: 0, borderColor: st.color,
        borderWidth: 2.5, fill: false, order: st.order, tension: 0,
      });
      ds.push({
        type: 'line', data: band.map(([x, , hi]) => ({ x, y: hi })), pointRadius: 0, borderColor: st.color,
        borderWidth: 2.5, backgroundColor: st.color, fill: '-1', order: st.order, tension: 0,
      });
    });
    ds.push({
      type: 'scatter', data: s.pts.map(([x, y]) => ({ x, y })), showLine: false, pointStyle: st.pointStyle,
      pointRadius: st.radius, pointHoverRadius: st.radius, pointBorderWidth: 1.2, borderColor: st.color,
      backgroundColor: st.color, order: st.order,
    });
  });
  return ds;
}

function makePlugin(panel: Panel) {
  const yt = yTickList(panel.yLabels);
  return {
    id: 'gnuplotLook',
    beforeDatasetsDraw(chart: any) {
      const { ctx, chartArea: ca, scales } = chart;
      ctx.save();
      ctx.strokeStyle = '#a0a0a0';
      ctx.lineWidth = 1;
      ctx.setLineDash([2, 3]);
      yt.forEach((t) => {
        const py = Math.round(scales.y.getPixelForValue(t.v)) + 0.5;
        ctx.beginPath(); ctx.moveTo(ca.left, py); ctx.lineTo(ca.right, py); ctx.stroke();
      });
      panel.xTicks.forEach((v) => {
        const px = Math.round(scales.x.getPixelForValue(v)) + 0.5;
        ctx.beginPath(); ctx.moveTo(px, ca.top); ctx.lineTo(px, ca.bottom); ctx.stroke();
      });
      ctx.restore();
    },
    afterDatasetsDraw(chart: any) {
      const { ctx, chartArea: ca, scales } = chart;
      ctx.save();
      ctx.setLineDash([]);
      ctx.strokeStyle = '#000';
      ctx.lineWidth = 1;
      const L = Math.round(ca.left) + 0.5, R = Math.round(ca.right) - 0.5;
      const T = Math.round(ca.top) + 0.5, B = Math.round(ca.bottom) - 0.5;
      ctx.strokeRect(L, T, R - L, B - T);
      ctx.beginPath();
      yt.forEach((t) => {
        const py = Math.round(scales.y.getPixelForValue(t.v)) + 0.5;
        const len = t.major ? 16 : 8;
        ctx.moveTo(L, py); ctx.lineTo(L + len, py);
        ctx.moveTo(R, py); ctx.lineTo(R - len, py);
      });
      panel.xTicks.forEach((v) => {
        const px = Math.round(scales.x.getPixelForValue(v)) + 0.5;
        ctx.moveTo(px, B); ctx.lineTo(px, B - 16);
        ctx.moveTo(px, T); ctx.lineTo(px, T + 16);
      });
      ctx.stroke();

      // key
      const bx = Math.round(ca.right - 303.7) + 0.5;
      const by = Math.round(ca.top + 16.4) + 0.5;
      ctx.strokeRect(bx, by, 295, 59);
      ctx.font = `16px ${FONT}`;
      ctx.fillStyle = '#000';
      ctx.textAlign = 'right';
      ctx.textBaseline = 'middle';
      seriesNames.forEach((name, i) => {
        const ty = ca.top + 25 + 20 * i;
        ctx.fillText(name, ca.right - 78.7, ty);
        const st = seriesStyles[i];
        ctx.strokeStyle = st.color;
        ctx.lineWidth = 1.2;
        drawMarker(ctx, st.pointStyle, ca.right - 43.7, ty + 1.5, st.radius);
      });

      if (panel.annotate) {
        const x0 = scales.x.getPixelForValue(redBoxX[0]);
        const x1 = scales.x.getPixelForValue(redBoxX[1]);
        const y0 = scales.y.getPixelForValue(redBoxY[1]);
        const y1 = scales.y.getPixelForValue(redBoxY[0]);
        ctx.strokeStyle = 'rgba(160,120,120,0.6)';
        ctx.lineWidth = 5;
        ctx.strokeRect(x0, y0, x1 - x0, y1 - y0);
        ctx.strokeStyle = '#8b0000';
        ctx.lineWidth = 3;
        ctx.strokeRect(x0, y0, x1 - x0, y1 - y0);

        const ex0 = scales.x.getPixelForValue(ellipseX[0]);
        const ex1 = scales.x.getPixelForValue(ellipseX[1]);
        const ey0 = scales.y.getPixelForValue(ellipseY[1]);
        const ey1 = scales.y.getPixelForValue(ellipseY[0]);
        ctx.beginPath();
        ctx.ellipse((ex0 + ex1) / 2, (ey0 + ey1) / 2, (ex1 - ex0) / 2, (ey1 - ey0) / 2, 0, 0, Math.PI * 2);
        ctx.strokeStyle = '#3f8a1f';
        ctx.lineWidth = 3;
        ctx.stroke();
      }
      ctx.restore();
    },
    afterDraw(chart: any) {
      const { ctx, chartArea: ca } = chart;
      ctx.save();
      ctx.font = `16px ${FONT}`;
      ctx.fillStyle = '#000';
      ctx.textAlign = 'center';
      ctx.textBaseline = 'middle';
      ctx.fillText(`Trained 10000 Invokes; ${panel.cpus} CPUs available`, (ca.left + ca.right) / 2, 22);
      ctx.restore();
    },
  };
}

function PanelChart({ panel, left, top }: { panel: Panel; left: number; top: number }) {
  const ref = useRef<HTMLCanvasElement | null>(null);
  useEffect(() => {
    if (!ref.current) return;
    const yt = yTickList(panel.yLabels);
    const majors = panel.yLabels.map(Number);
    const chart = new Chart(ref.current, {
      type: 'scatter',
      data: { datasets: buildDatasets(panel) },
      options: {
        responsive: false,
        animation: false,
        devicePixelRatio: 1,
        events: [],
        layout: { padding: { left: 0, top: 45, right: 28, bottom: 0 } },
        plugins: { legend: { display: false }, title: { display: false }, tooltip: { enabled: false } },
        scales: {
          x: {
            type: 'linear', min: 0, max: panel.xMax,
            afterBuildTicks: (s: any) => { s.ticks = panel.xTicks.map((v) => ({ value: v })); },
            afterFit: (s: any) => { s.height = 46; },
            ticks: { autoSkip: false, maxRotation: 0, padding: 5, color: '#000', font: { family: FONT, size: 16 },
                     callback: (v: any) => String(v) },
            grid: { display: false, drawTicks: false },
            border: { display: false },
            title: { display: true, text: 'run time, ms', color: '#000', font: { family: FONT, size: 16, lineHeight: 1.2 },
                     padding: { top: 0, bottom: 0 } },
          },
          y: {
            type: 'logarithmic', min: majors[0], max: majors[majors.length - 1],
            afterBuildTicks: (s: any) => { s.ticks = yt.map((t) => ({ value: t.v, major: t.major })); },
            afterFit: (s: any) => { s.width = 91.5; },
            ticks: { autoSkip: false, padding: 10, color: '#000', font: { family: FONT, size: 16 },
                     callback: (v: any) => {
                       const i = majors.findIndex((m) => Math.abs(m - Number(v)) / m < 1e-6);
                       return i >= 0 ? panel.yLabels[i] : '';
                     } },
            grid: { display: false, drawTicks: false },
            border: { display: false },
            title: { display: true, text: 'time per invoke, us', color: '#000', font: { family: FONT, size: 16, lineHeight: 1.2 },
                     padding: { top: 2, bottom: 0 } },
          },
        },
      } as any,
      plugins: [makePlugin(panel)],
    });
    return () => chart.destroy();
  }, [panel]);
  return (
    <canvas ref={ref} width={1200} height={533}
      style={{ position: 'absolute', left, top, width: 1200, height: 533, display: 'block' }} />
  );
}

const rowTops = [0, 533, 1067];

export default function App() {
  return (
    <div style={{ position: 'absolute', left: 0, top: 0, width: 2400, height: 1600, background: '#fff', overflow: 'hidden' }}>
      {panels.map((p, i) => (
        <PanelChart key={i} panel={p} left={(i % 2) * 1200} top={rowTops[Math.floor(i / 2)]} />
      ))}
    </div>
  );
}
